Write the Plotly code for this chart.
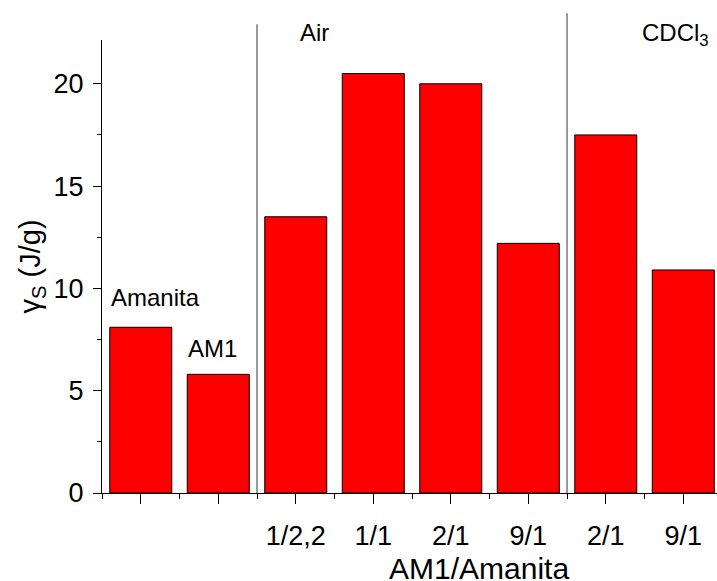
import plotly.graph_objects as go

# Surface energy per sample
positions = [1, 2, 3, 4, 5, 6, 7, 8]
gamma_s = [8.1, 5.8, 13.5, 20.5, 20.0, 12.2, 17.5, 10.9]
tick_labels = ["", "", "1/2,2", "1/1", "2/1", "9/1", "2/1", "9/1"]

# Group separators (between bar positions) and their top ends (paper units)
separator_x = [2.5, 6.5]
separator_top = [1.035, 1.059]

FONT = "Liberation Sans, Arial, sans-serif"

fig = go.Figure(
    go.Bar(
        x=positions,
        y=gamma_s,
        width=0.8,
        marker=dict(color="#FF0000", line=dict(color="#000000", width=1)),
        showlegend=False,
    )
)

for xs, top in zip(separator_x, separator_top):
    fig.add_shape(
        type="line", xref="x", yref="paper",
        x0=xs, x1=xs, y0=0, y1=top,
        line=dict(color="#7a7a7a", width=1.5),
        layer="above",
    )

label_font = dict(family=FONT, size=24, color="#000000")
fig.add_annotation(x=0.585, y=9.55, xref="x", yref="y", text="Amanita",
                   showarrow=False, xanchor="left", yanchor="middle", font=label_font)
fig.add_annotation(x=1.585, y=7.08, xref="x", yref="y", text="AM1",
                   showarrow=False, xanchor="left", yanchor="middle", font=label_font)
fig.add_annotation(x=3.03, y=1.017, xref="x", yref="paper", text="Air",
                   showarrow=False, xanchor="left", yanchor="middle", font=label_font)
fig.add_annotation(x=7.44, y=1.012, xref="x", yref="paper", text="CDCl<sub>3</sub>",
                   showarrow=False, xanchor="left", yanchor="middle", font=label_font)

# x-axis title
fig.add_annotation(x=0.613, y=-0.166, xref="paper", yref="paper", text="AM1/Amanita",
                   showarrow=False, xanchor="center", yanchor="middle",
                   font=dict(family=FONT, size=30, color="#000000"))

fig.update_layout(
    width=717, height=581,
    margin=dict(l=102, r=0, t=40, b=88),
    plot_bgcolor="white", paper_bgcolor="white",
    font=dict(family=FONT, color="#000000"),
    bargap=0.2,
)

fig.update_xaxes(
    range=[0.5, 8.435],
    tickmode="array", tickvals=positions, ticktext=tick_labels,
    ticks="outside", ticklen=10, tickwidth=1.3, tickcolor="#000000",
    ticklabelstandoff=8,
    minor=dict(tickmode="array", tickvals=[p - 0.5 for p in positions] + [8.5],
               ticks="outside", ticklen=5, tickwidth=1.3, tickcolor="#000000"),
    showline=True, linecolor="#000000", linewidth=1.3,
    showgrid=False, zeroline=False,
    tickfont=dict(family=FONT, size=27, color="#000000"),
)

fig.update_yaxes(
    range=[0, 22.14],
    tickmode="linear", tick0=0, dtick=5,
    ticks="outside", ticklen=8, tickwidth=1.3, tickcolor="#000000",
    ticklabelstandoff=4,
    minor=dict(tick0=0, dtick=2.5, ticks="outside", ticklen=4,
               tickwidth=1.3, tickcolor="#000000"),
    showline=True, linecolor="#000000", linewidth=1.3,
    showgrid=False, zeroline=False,
    tickfont=dict(family=FONT, size=27, color="#000000"),
    title=dict(text="γ<sub>S</sub> (J/g)", standoff=4,
               font=dict(family=FONT, size=29, color="#000000")),
)

fig.write_html("out.html")
